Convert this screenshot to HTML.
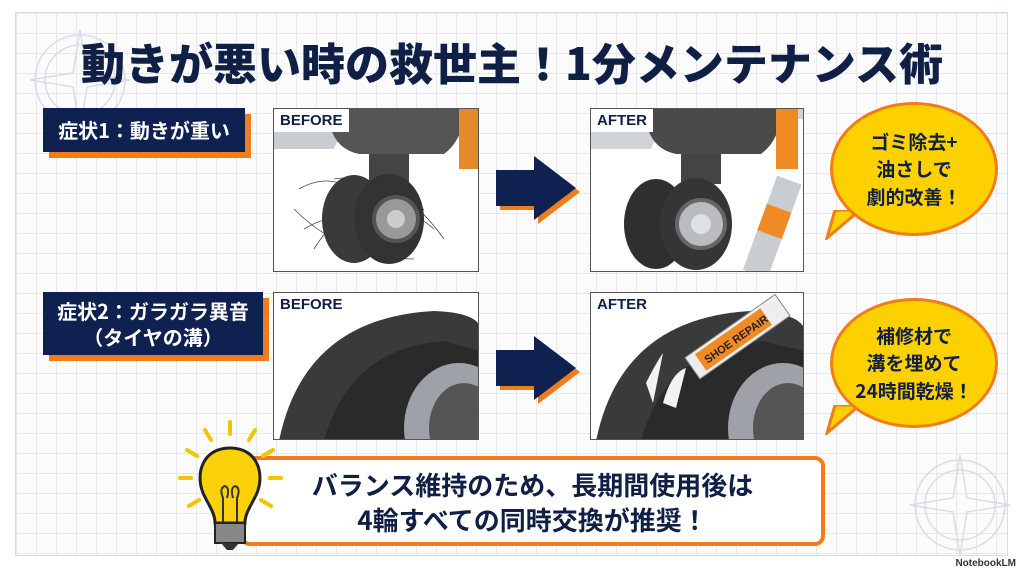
<!DOCTYPE html>
<html><head><meta charset="utf-8"><style>
*{margin:0;padding:0;box-sizing:border-box}
body{width:1024px;height:572px;background:#fff;position:relative;overflow:hidden;font-family:"Liberation Sans","Noto Sans CJK JP",sans-serif;font-weight:bold;color:#0f1f45}
.frame{position:absolute;left:15px;top:12px;width:993px;height:544px;border:1px solid #d8dce2;
background-color:#fbfbfc;background-image:linear-gradient(#e6e8ec 1px,transparent 1px),linear-gradient(90deg,#e6e8ec 1px,transparent 1px);background-size:20px 20px}
.abs{position:absolute}
.title{left:0;width:1024px;top:29px;text-align:center;font-size:44px;font-weight:900;color:#0f1f45;letter-spacing:0px;font-family:"Noto Sans CJK JP",sans-serif}
.label{background:#0f2150;color:#fff;font-size:20px;text-align:center;box-shadow:6px 6px 0 #f07d1a;font-family:"Noto Sans CJK JP",sans-serif;display:flex;align-items:center;justify-content:center;line-height:1.3}
.panel{border:1.5px solid #555;background:#fff;overflow:hidden}
.tag{position:absolute;left:0;top:0;background:#fff;padding:3px 6px;font-size:15px;color:#0f1f45;font-family:"Liberation Sans",sans-serif;font-weight:bold}
.bubble{background:#fdd100;border:3px solid #f07d1a;border-radius:50%;display:flex;align-items:center;justify-content:center;text-align:center;font-size:19px;line-height:1.45;color:#0f1f45;font-family:"Noto Sans CJK JP",sans-serif}
.bottom{left:240px;top:456px;width:585px;height:90px;border:4px solid #f07d1a;border-radius:10px;background:#fff;text-align:center;font-size:26px;line-height:35px;padding-top:7px;font-family:"Noto Sans CJK JP",sans-serif;color:#0f1f45}
</style></head><body>
<div class="frame"></div>
<svg class="abs" style="left:25px;top:25px" width="110" height="110" viewBox="0 0 110 110"><g fill="none" stroke="#d9dde4" stroke-width="1.5"><circle cx="55" cy="55" r="45"/><circle cx="55" cy="55" r="35"/><path d="M55 5 L62 48 L105 55 L62 62 L55 105 L48 62 L5 55 L48 48Z"/></g></svg>
<svg class="abs" style="left:905px;top:440px" width="110" height="120" viewBox="0 0 110 120"><g fill="none" stroke="#d9dde4" stroke-width="1.5"><circle cx="55" cy="65" r="45"/><circle cx="55" cy="65" r="35"/><path d="M55 15 L62 58 L105 65 L62 72 L55 115 L48 72 L5 65 L48 58Z"/></g></svg>
<div class="abs title">動きが悪い時の救世主！1分メンテナンス術</div>

<div class="abs label" style="left:43px;top:108px;width:202px;height:44px">症状1：動きが重い</div>
<div class="abs label" style="left:43px;top:292px;width:220px;height:63px">症状2：ガラガラ異音<br>（タイヤの溝）</div>

<div class="abs panel" style="left:273px;top:108px;width:206px;height:164px">
<svg width="206" height="164"><path d="M0 40 L60 40 Q70 10 120 10 L206 10 L206 0 L0 0Z" fill="#c9ccd0"/><path d="M55 12 Q60 40 85 45 L170 45 Q190 30 190 0 L60 0Z" fill="#555"/><rect x="185" y="0" width="20" height="60" fill="#e58a2a"/><rect x="95" y="45" width="40" height="30" fill="#444"/>
<g fill="none" stroke="#444" stroke-width="0.8"><path d="M25 80 Q60 60 90 90 T150 100 M30 120 Q80 90 120 140 M40 140 Q90 60 160 120 M20 100 Q70 150 140 150 M60 70 Q120 60 170 130"/></g>
<ellipse cx="80" cy="110" rx="32" ry="44" fill="#3a3a3a"/><ellipse cx="115" cy="110" rx="35" ry="45" fill="#333"/><circle cx="122" cy="110" r="22" fill="#999" stroke="#555" stroke-width="4"/><circle cx="122" cy="110" r="9" fill="#ccc"/></svg>
<div class="tag">BEFORE</div></div>
<div class="abs panel" style="left:590px;top:108px;width:214px;height:164px">
<svg width="214" height="164"><path d="M0 40 L60 40 Q70 10 120 10 L214 10 L214 0 L0 0Z" fill="#d0d3d7"/><path d="M55 12 Q60 40 85 45 L170 45 Q190 30 190 0 L60 0Z" fill="#4a4a4a"/><rect x="185" y="0" width="22" height="60" fill="#f08a25"/><rect x="90" y="45" width="40" height="30" fill="#444"/>
<ellipse cx="65" cy="115" rx="32" ry="45" fill="#2f2f2f"/><ellipse cx="105" cy="115" rx="36" ry="46" fill="#353535"/><circle cx="110" cy="115" r="24" fill="#b9bcc0" stroke="#666" stroke-width="4"/><circle cx="110" cy="115" r="10" fill="#e0e0e0"/>
<g transform="rotate(20 190 100)"><rect x="175" y="70" width="26" height="100" fill="#c9ccd0"/><rect x="175" y="100" width="26" height="28" fill="#f08a25"/></g></svg>
<div class="tag">AFTER</div></div>
<div class="abs panel" style="left:273px;top:292px;width:206px;height:148px">
<svg width="206" height="148"><path d="M5 148 Q30 25 160 18 Q210 20 206 40 L206 148Z" fill="#3a3a3a"/><path d="M50 148 Q75 55 170 48 L206 58 L206 148Z" fill="#2a2a2a"/><ellipse cx="185" cy="135" rx="55" ry="65" fill="#9ea2a8"/><ellipse cx="190" cy="135" rx="35" ry="45" fill="#555"/></svg>
<div class="tag">BEFORE</div></div>
<div class="abs panel" style="left:590px;top:292px;width:214px;height:148px">
<svg width="214" height="148"><path d="M5 148 Q30 25 160 18 Q214 20 214 40 L214 148Z" fill="#3a3a3a"/><path d="M50 148 Q75 55 170 48 L214 58 L214 148Z" fill="#2a2a2a"/><ellipse cx="192" cy="135" rx="55" ry="65" fill="#9ea2a8"/><ellipse cx="197" cy="135" rx="35" ry="45" fill="#555"/><path d="M55 90 Q65 70 72 60 L62 110 Z" fill="#f2f2f2"/><path d="M72 110 Q80 80 95 75 L85 115Z" fill="#f2f2f2"/><g transform="rotate(-35 150 40)"><rect x="90" y="28" width="110" height="26" fill="#eee" stroke="#888"/><rect x="100" y="31" width="80" height="20" fill="#f08a25"/><text x="105" y="46" font-size="11" fill="#222" font-family="Liberation Sans">SHOE REPAIR</text></g></svg>
<div class="tag">AFTER</div></div>

<svg class="abs" style="left:492px;top:152px" width="90" height="72"><path d="M4 18 L42 18 L42 4 L84 36 L42 68 L42 54 L4 54Z" fill="#f07d1a" transform="translate(4,4)"/><path d="M4 18 L42 18 L42 4 L84 36 L42 68 L42 54 L4 54Z" fill="#0f2150"/></svg>
<svg class="abs" style="left:492px;top:332px" width="90" height="72"><path d="M4 18 L42 18 L42 4 L84 36 L42 68 L42 54 L4 54Z" fill="#f07d1a" transform="translate(4,4)"/><path d="M4 18 L42 18 L42 4 L84 36 L42 68 L42 54 L4 54Z" fill="#0f2150"/></svg>

<svg class="abs" style="left:825px;top:210px" width="40" height="30"><path d="M10 0 L35 0 L2 28Z" fill="#fdd100" stroke="#f07d1a" stroke-width="3"/></svg>
<div class="abs bubble" style="left:830px;top:102px;width:168px;height:134px">ゴミ除去+<br>油さしで<br>劇的改善！</div>
<svg class="abs" style="left:825px;top:405px" width="40" height="30"><path d="M10 0 L35 0 L2 28Z" fill="#fdd100" stroke="#f07d1a" stroke-width="3"/></svg>
<div class="abs bubble" style="left:830px;top:298px;width:168px;height:130px">補修材で<br>溝を埋めて<br>24時間乾燥！</div>

<div class="abs bottom">バランス維持のため、長期間使用後は<br>4輪すべての同時交換が推奨！</div>
<svg class="abs" style="left:175px;top:418px" width="110" height="135"><g stroke="#f5c400" stroke-width="4" stroke-linecap="round"><line x1="55" y1="4" x2="55" y2="16"/><line x1="30" y1="12" x2="36" y2="22"/><line x1="80" y1="12" x2="74" y2="22"/><line x1="12" y1="32" x2="22" y2="38"/><line x1="98" y1="32" x2="88" y2="38"/><line x1="5" y1="60" x2="16" y2="60"/><line x1="95" y1="60" x2="106" y2="60"/><line x1="14" y1="88" x2="24" y2="82"/><line x1="96" y1="88" x2="86" y2="82"/></g>
<path d="M55 30 C28 30 20 55 28 75 C34 88 40 95 40 105 L70 105 C70 95 76 88 82 75 C90 55 82 30 55 30Z" fill="#fbd20a" stroke="#222" stroke-width="3"/><path d="M48 105 L48 80 Q44 70 50 68 Q55 70 52 80 M62 105 L62 80 Q66 70 60 68 Q55 70 58 80" fill="none" stroke="#333" stroke-width="2"/><rect x="40" y="105" width="30" height="20" fill="#888" stroke="#222" stroke-width="2"/><path d="M46 125 L64 125 L58 132 L52 132Z" fill="#333"/></svg>
<div class="abs" style="right:8px;top:558px;font-size:10px;color:#333;font-family:'Liberation Sans',sans-serif">NotebookLM</div>
</body></html>
